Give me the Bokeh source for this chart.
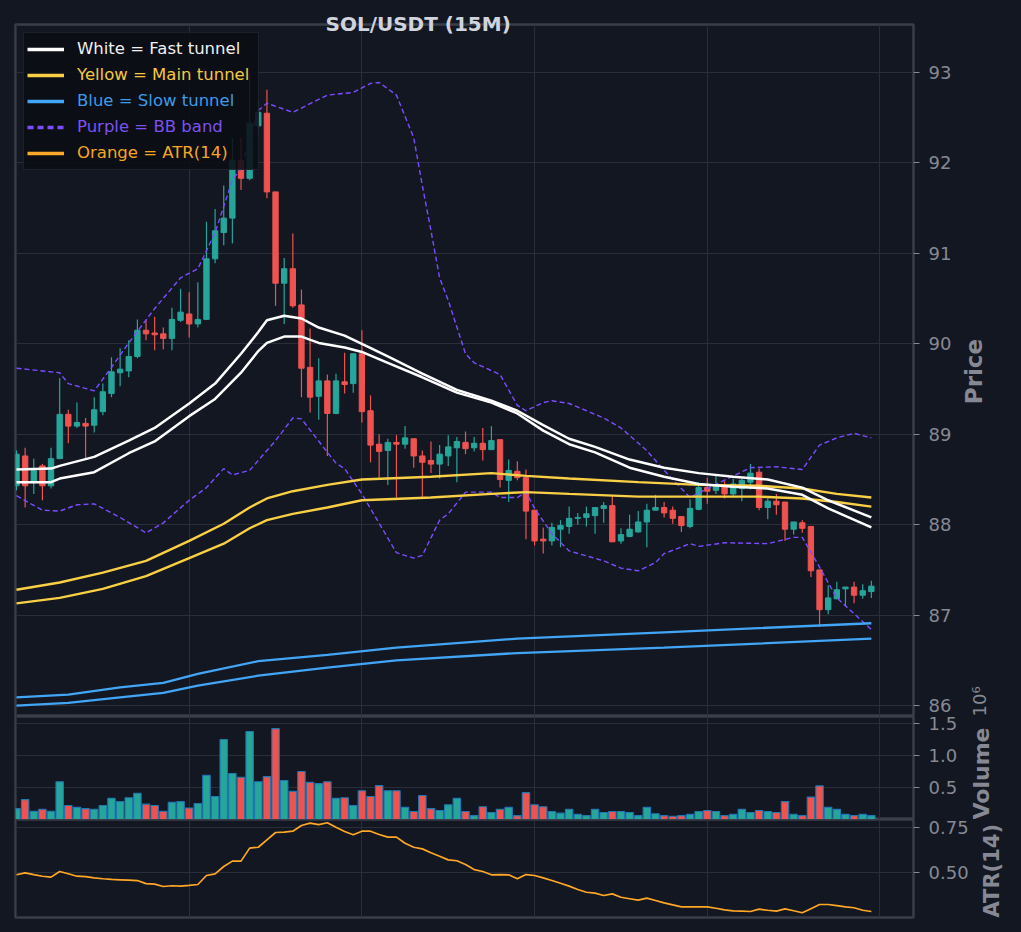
import math
import numpy as np
from bokeh.plotting import figure
from bokeh.models import (ColumnDataSource, Range1d, FixedTicker, Grid, LinearAxis,
                          Legend, LegendItem, CustomJSTickFormatter, PrintfTickFormatter)
from bokeh.layouts import column
from bokeh.embed import file_html
from bokeh.resources import INLINE

# ---------------- data ----------------
open_ = [88.43, 88.76, 88.47, 88.65, 88.43, 88.73, 89.22, 89.09, 89.12, 89.10,
         89.25, 89.45, 89.68, 89.70, 89.86, 90.15, 90.12, 90.11, 90.06, 90.26,
         90.33, 90.22, 90.27, 90.94, 91.23, 91.39, 92.03, 91.83, 92.41, 92.55,
         91.68, 90.67, 90.83, 90.43, 89.74, 89.42, 89.59, 89.23, 89.58, 89.56,
         89.89, 89.26, 88.89, 88.82, 88.91, 88.89, 88.95, 88.76, 88.71, 88.67,
         88.76, 88.85, 88.91, 88.85, 88.90, 88.83, 88.94, 88.49, 88.59, 88.52,
         88.16, 87.84, 87.82, 87.95, 87.98, 88.07, 88.08, 88.10, 88.18, 88.21,
         87.82, 87.87, 87.92, 88.03, 88.16, 88.19, 88.16, 88.09, 87.98, 88.17,
         88.41, 88.38, 88.43, 88.34, 88.40, 88.47, 88.58, 88.19, 88.26, 88.25,
         87.95, 88.02, 87.98, 87.50, 87.06, 87.18, 87.29, 87.31, 87.22, 87.26]
high = [88.82, 88.85, 88.73, 88.67, 88.85, 89.62, 89.27, 89.35, 89.18, 89.41,
        89.56, 89.85, 89.95, 90.04, 90.27, 90.27, 90.30, 90.18, 90.40, 90.61,
        90.57, 90.68, 91.35, 91.49, 91.75, 92.28, 92.28, 92.98, 92.69, 92.81,
        91.68, 90.95, 91.22, 90.60, 90.17, 89.84, 89.66, 89.67, 89.90, 89.89,
        90.15, 89.43, 89.00, 88.95, 88.99, 89.09, 88.95, 88.82, 88.92, 88.88,
        88.99, 88.97, 89.03, 88.97, 89.07, 89.09, 88.94, 88.72, 88.70, 88.61,
        88.16, 87.97, 88.02, 88.05, 88.20, 88.13, 88.20, 88.19, 88.25, 88.32,
        87.96, 88.11, 88.15, 88.23, 88.33, 88.25, 88.20, 88.09, 88.28, 88.47,
        88.52, 88.55, 88.48, 88.51, 88.51, 88.67, 88.62, 88.29, 88.34, 88.25,
        88.03, 88.05, 87.98, 87.50, 87.33, 87.37, 87.31, 87.37, 87.34, 87.38]
low = [88.38, 88.19, 88.34, 88.27, 88.40, 88.73, 88.90, 89.07, 88.73, 89.02,
       89.21, 89.41, 89.53, 89.63, 89.84, 90.04, 89.93, 89.94, 89.93, 90.24,
       90.07, 90.18, 90.27, 90.89, 91.09, 91.11, 91.70, 91.81, 92.30, 91.61,
       90.42, 90.22, 90.40, 89.41, 89.24, 89.16, 88.76, 89.22, 89.45, 89.46,
       89.13, 88.69, 88.52, 88.44, 88.30, 88.84, 88.63, 88.30, 88.57, 88.51,
       88.65, 88.47, 88.78, 88.81, 88.71, 88.83, 88.41, 88.25, 88.49, 87.84,
       87.77, 87.68, 87.77, 87.75, 87.90, 88.00, 87.98, 87.90, 88.02, 87.81,
       87.79, 87.86, 87.91, 87.75, 88.16, 88.08, 88.01, 87.92, 87.96, 88.16,
       88.23, 88.34, 88.29, 88.32, 88.26, 88.39, 88.16, 88.06, 88.11, 87.82,
       87.89, 87.91, 87.42, 86.87, 87.01, 87.18, 87.10, 87.13, 87.18, 87.19]
close = [88.78, 88.43, 88.60, 88.43, 88.73, 89.22, 89.09, 89.13, 89.09, 89.27,
         89.47, 89.69, 89.72, 89.86, 90.15, 90.11, 90.10, 90.06, 90.27, 90.35,
         90.22, 90.27, 90.94, 91.25, 91.39, 92.03, 91.83, 92.44, 92.56, 91.68,
         90.67, 90.83, 90.42, 89.73, 89.41, 89.59, 89.23, 89.59, 89.55, 89.89,
         89.25, 88.88, 88.81, 88.91, 88.89, 88.96, 88.76, 88.69, 88.67, 88.78,
         88.86, 88.92, 88.84, 88.90, 88.83, 88.93, 88.50, 88.60, 88.52, 88.15,
         87.82, 87.82, 87.97, 87.99, 88.07, 88.08, 88.12, 88.19, 88.21, 87.81,
         87.89, 87.95, 88.03, 88.16, 88.19, 88.13, 88.07, 87.99, 88.18, 88.41,
         88.37, 88.43, 88.34, 88.45, 88.49, 88.57, 88.19, 88.26, 88.22, 87.95,
         88.03, 87.96, 87.49, 87.06, 87.19, 87.28, 87.31, 87.22, 87.27, 87.32]
volume = [170000, 310000, 130000, 160000, 130000, 590000, 220000, 190000, 170000, 160000,
          220000, 330000, 280000, 340000, 410000, 240000, 220000, 130000, 270000, 280000,
          180000, 250000, 690000, 360000, 1250000, 720000, 660000, 1375000, 590000, 670000,
          1420000, 610000, 440000, 750000, 580000, 560000, 590000, 330000, 340000, 220000,
          450000, 360000, 530000, 450000, 450000, 190000, 125000, 375000, 170000, 140000,
          230000, 330000, 125000, 60000, 200000, 110000, 160000, 190000, 60000, 420000,
          230000, 200000, 125000, 100000, 160000, 80000, 60000, 160000, 110000, 125000,
          125000, 110000, 60000, 190000, 90000, 60000, 50000, 60000, 80000, 125000,
          140000, 125000, 60000, 80000, 160000, 110000, 140000, 125000, 110000, 280000,
          80000, 60000, 350000, 525000, 190000, 160000, 80000, 60000, 80000, 60000]
atr14 = [0.489, 0.500, 0.490, 0.481, 0.476, 0.507, 0.495, 0.481, 0.479, 0.472,
         0.467, 0.463, 0.461, 0.459, 0.457, 0.440, 0.437, 0.424, 0.428, 0.426,
         0.430, 0.435, 0.485, 0.494, 0.535, 0.565, 0.565, 0.637, 0.642, 0.683,
         0.724, 0.726, 0.731, 0.763, 0.776, 0.768, 0.778, 0.753, 0.729, 0.711,
         0.731, 0.731, 0.713, 0.698, 0.698, 0.664, 0.642, 0.633, 0.611, 0.592,
         0.572, 0.567, 0.546, 0.518, 0.507, 0.489, 0.490, 0.489, 0.467, 0.490,
         0.485, 0.472, 0.457, 0.442, 0.426, 0.407, 0.392, 0.387, 0.374, 0.383,
         0.364, 0.356, 0.348, 0.359, 0.346, 0.333, 0.322, 0.311, 0.311, 0.311,
         0.311, 0.303, 0.294, 0.289, 0.287, 0.285, 0.298, 0.292, 0.287, 0.300,
         0.289, 0.278, 0.300, 0.324, 0.324, 0.318, 0.311, 0.306, 0.292, 0.285]

fast_idx = [0, 4, 5, 9, 13, 16, 20, 23, 26, 28, 29, 31, 33, 35, 38, 40, 43, 47, 51, 55,
            58, 61, 64, 67, 71, 75, 79, 83, 87, 91, 94, 99]
fast_upper = [88.61, 88.62, 88.65, 88.75, 88.93, 89.07, 89.34, 89.56, 89.89, 90.13, 90.26,
              90.31, 90.28, 90.18, 90.09, 90.00, 89.86, 89.67, 89.49, 89.37, 89.26, 89.10,
              88.95, 88.86, 88.72, 88.63, 88.57, 88.53, 88.50, 88.41, 88.27, 88.08]
fast_lower = [88.47, 88.47, 88.51, 88.58, 88.79, 88.92, 89.20, 89.39, 89.68, 89.92, 90.01,
              90.08, 90.08, 90.01, 89.96, 89.91, 89.79, 89.63, 89.46, 89.35, 89.23, 89.04,
              88.89, 88.80, 88.63, 88.53, 88.45, 88.42, 88.40, 88.33, 88.18, 87.97]
main_idx = [0, 5, 10, 15, 20, 24, 27, 29, 32, 36, 40, 48, 55, 59, 64, 72, 79, 86, 91, 95, 99]
main_upper = [87.28, 87.36, 87.47, 87.60, 87.82, 88.01, 88.19, 88.29, 88.37, 88.44, 88.50,
              88.53, 88.57, 88.54, 88.51, 88.47, 88.44, 88.43, 88.40, 88.34, 88.30]
main_lower = [87.13, 87.19, 87.29, 87.43, 87.63, 87.79, 87.96, 88.05, 88.12, 88.19, 88.27,
              88.30, 88.34, 88.36, 88.34, 88.31, 88.31, 88.31, 88.29, 88.25, 88.20]
slow_idx = [0, 6, 12, 17, 21, 28, 36, 44, 58, 75, 99]
slow_upper = [86.09, 86.12, 86.20, 86.25, 86.35, 86.49, 86.56, 86.64, 86.74, 86.81, 86.91]
slow_lower = [86.00, 86.03, 86.09, 86.14, 86.22, 86.33, 86.42, 86.50, 86.58, 86.64, 86.74]
bb_up_idx = [0, 4, 5, 6, 9, 11, 13, 16, 19, 21, 23, 25, 26, 28, 29, 32, 36, 39, 41, 42,
             44, 46, 47, 48, 49, 50, 52, 53, 56, 58, 59, 61, 62, 64, 68, 70, 73, 75, 78, 80,
             85, 88, 91, 93, 95, 97, 99]
bb_upper = [89.73, 89.69, 89.68, 89.56, 89.48, 89.74, 90.01, 90.39, 90.73, 90.83, 91.23,
            91.81, 91.94, 92.58, 92.66, 92.56, 92.75, 92.78, 92.88, 92.89, 92.75, 92.28,
            91.75, 91.25, 90.73, 90.48, 89.89, 89.79, 89.66, 89.32, 89.26, 89.35, 89.37,
            89.34, 89.18, 89.07, 88.82, 88.60, 88.30, 88.40, 88.63, 88.64, 88.61, 88.88,
            88.96, 89.01, 88.96]
bb_lo_idx = [0, 3, 5, 7, 9, 12, 15, 17, 20, 22, 24, 25, 27, 30, 32, 33, 36, 37, 38, 40,
             44, 46, 47, 49, 50, 52, 55, 56, 58, 59, 60, 62, 64, 68, 70, 72, 74, 75, 78, 79,
             82, 87, 90, 91, 93, 95, 99]
bb_lower = [88.32, 88.16, 88.15, 88.22, 88.23, 88.08, 87.91, 88.02, 88.27, 88.41, 88.62,
            88.55, 88.60, 88.93, 89.18, 89.17, 88.80, 88.68, 88.62, 88.34, 87.69, 87.63,
            87.66, 88.05, 88.12, 88.36, 88.36, 88.30, 88.30, 88.36, 88.18, 87.90, 87.71,
            87.60, 87.52, 87.49, 87.58, 87.68, 87.79, 87.76, 87.80, 87.79, 87.86, 87.86,
            87.53, 87.19, 86.84]

price_ticks = [86, 87, 88, 89, 90, 91, 92, 93]
volume_ticks = [500000, 1000000, 1500000]
atr_ticks = [0.50, 0.75]
x_grid_ticks = [0, 20, 40, 60, 80, 100]
title_text = "SOL/USDT (15M)"
legend_labels = ["White = Fast tunnel", "Yellow = Main tunnel", "Blue = Slow tunnel",
                 "Purple = BB band", "Orange = ATR(14)"]

# ---------------- style ----------------
BG = "#131722"
GRID = "#2a2e39"
SPINE = "#3a3e49"
TICK = "#868993"
TITLE_C = "#d1d4dc"
UP = "#26a69a"
DOWN = "#ef5350"
WHITE = "#ffffff"
YELLOW = "#f9cf45"
BLUE = "#42a5f5"
PURPLE = "#7c4dff"
ORANGE = "#ffa726"
VOL_EDGE = "#1f77b4"
FONT = "DejaVu Sans"
NBSP = "\u00a0"

FW = 898
FH1, FH2, FH3 = 692, 103, 98
X0, X1 = -0.116, 103.88
P1 = 93.531
P0 = P1 - FH1 / 90.43
V0, V1 = 0.0, 1.61e6
A0, A1 = 0.2517, 0.7961

x_range = Range1d(X0, X1)


def try_set(obj, **kw):
    for k, v in kw.items():
        try:
            setattr(obj, k, v)
        except Exception:
            pass


def mk(fh, yr, top, bottom, **extra):
    p = figure(frame_width=FW, frame_height=fh, x_range=x_range, y_range=yr,
               output_backend="svg", toolbar_location=None,
               x_axis_location=None, y_axis_location="right",
               min_border_left=15, min_border_right=100,
               min_border_top=top, min_border_bottom=bottom,
               background_fill_color=BG, border_fill_color=BG,
               outline_line_color=SPINE, outline_line_width=2.5, **extra)
    for g in p.xgrid:
        g.visible = False
    p.add_layout(Grid(dimension=0, ticker=FixedTicker(ticks=x_grid_ticks),
                      grid_line_color=GRID, grid_line_width=1))
    p.ygrid.grid_line_color = GRID
    p.ygrid.grid_line_width = 1
    ax = p.yaxis[0]
    ax.axis_line_color = None
    ax.major_tick_out = 6
    ax.major_tick_in = 0
    ax.major_tick_line_color = TICK
    ax.minor_tick_line_color = None
    ax.major_label_text_font = FONT
    ax.major_label_text_font_size = "18px"
    ax.major_label_text_color = TICK
    ax.major_label_standoff = 9
    return p


def style_axis_label(ax, text, size, standoff, bold=True):
    ax.axis_label = text
    ax.axis_label_text_font = FONT
    ax.axis_label_text_font_size = size
    ax.axis_label_text_font_style = "bold" if bold else "normal"
    ax.axis_label_text_color = TICK
    try_set(ax, axis_label_standoff=standoff)
    # read bottom-to-top, starting at the lower end of the axis
    try_set(ax, axis_label_orientation=math.pi / 2)
    try_set(ax, axis_label_align="start")


xs = list(range(len(open_)))
colors = [UP if c >= o else DOWN for o, c in zip(open_, close)]
src = ColumnDataSource(dict(x=xs, open=open_, high=high, low=low, close=close,
                            top=[max(o, c) for o, c in zip(open_, close)],
                            bottom=[min(o, c) for o, c in zip(open_, close)],
                            vol=volume, atr=atr14, color=colors))

# ---------------- price panel ----------------
p1 = mk(FH1, Range1d(P0, P1), 24, 0, title=title_text)
p1.title.align = "left"
p1.title.offset = 310
p1.title.text_font = FONT
p1.title.text_font_size = "20px"
p1.title.text_font_style = "bold"
p1.title.text_color = TITLE_C
try_set(p1.title, standoff=-22)

p1.yaxis[0].ticker = FixedTicker(ticks=price_ticks)
# leading no-break spaces lift the label to the middle of the price panel
style_axis_label(p1.yaxis[0], NBSP * 39 + "Price", "23px", 20)

# offset text of the volume axis (scientific multiplier)
ax_off = LinearAxis(ticker=FixedTicker(ticks=[]), axis_line_color=None,
                    major_tick_line_color=None, minor_tick_line_color=None)
style_axis_label(ax_off, "10\u2076", "18px", -24, bold=False)
p1.add_layout(ax_off, "right")

p1.segment(x0="x", y0="low", x1="x", y1="high", line_color="color", line_width=1.2, source=src)
p1.vbar(x="x", width=0.62, top="top", bottom="bottom", fill_color="color",
        line_color="color", line_width=1, source=src)

p1.line(bb_up_idx, bb_upper, line_color=PURPLE, line_width=1.4, line_dash="5 3")
p1.line(bb_lo_idx, bb_lower, line_color=PURPLE, line_width=1.4, line_dash="5 3")
p1.line(slow_idx, slow_upper, line_color=BLUE, line_width=2.3)
p1.line(slow_idx, slow_lower, line_color=BLUE, line_width=2.3)
p1.line(main_idx, main_upper, line_color=YELLOW, line_width=2.4)
p1.line(main_idx, main_lower, line_color=YELLOW, line_width=2.4)
p1.line(fast_idx, fast_upper, line_color=WHITE, line_width=2.5)
p1.line(fast_idx, fast_lower, line_color=WHITE, line_width=2.5)

# legend: one boxed legend with the swatches, plus one text-only legend per row
leg_colors = [WHITE, YELLOW, BLUE, PURPLE, ORANGE]
leg_dash = ["solid", "solid", "solid", "6 4", "solid"]
leg_text_colors = ["#f0f0f0", "#f5c842", "#3d9be9", "#7b52f0", "#f5a623"]
nan = np.array([np.nan])
swatches = [p1.line(x=nan, y=nan, line_color=c, line_width=3.5, line_dash=d)
            for c, d in zip(leg_colors, leg_dash)]
ghosts = [p1.line(x=nan, y=nan, line_color=c, line_alpha=0, line_width=3.5)
          for c in leg_colors]
MARGIN, PAD, ROW_H, GLYPH_W, STANDOFF, LABEL_W = 8, 3, 26, 37, 14, 177
common = dict(spacing=0, glyph_width=GLYPH_W, glyph_height=ROW_H, label_height=ROW_H,
              label_width=LABEL_W, label_standoff=STANDOFF,
              label_text_font=FONT, label_text_font_size="16.5px")
box = Legend(items=[LegendItem(label=t, renderers=[r]) for t, r in zip(legend_labels, swatches)],
             location="top_left", margin=MARGIN, padding=PAD, label_text_alpha=0,
             background_fill_color="#0b0d13", background_fill_alpha=0.86,
             border_line_color="#2e323d", border_line_width=1.5, **common)
p1.add_layout(box)
for k, (t, r, c) in enumerate(zip(legend_labels, ghosts, leg_text_colors)):
    row = Legend(items=[LegendItem(label=t, renderers=[r])],
                 location=(MARGIN + PAD, FH1 - (MARGIN + PAD + (k + 1) * ROW_H)),
                 margin=0, padding=0, label_text_color=c,
                 background_fill_alpha=0, border_line_alpha=0, **common)
    p1.add_layout(row)

# ---------------- volume panel ----------------
p2 = mk(FH2, Range1d(V0, V1), 0, 0)
p2.yaxis[0].ticker = FixedTicker(ticks=volume_ticks)
p2.yaxis[0].formatter = CustomJSTickFormatter(code="return (tick / 1e6).toFixed(1);")
style_axis_label(p2.yaxis[0], "Volume", "22px", 21)
p2.vbar(x="x", width=0.86, top="vol", bottom=0, fill_color="color",
        line_color=VOL_EDGE, line_width=1.1, source=src)

# ---------------- ATR panel ----------------
p3 = mk(FH3, Range1d(A0, A1), 0, 8)
p3.yaxis[0].ticker = FixedTicker(ticks=atr_ticks)
p3.yaxis[0].formatter = PrintfTickFormatter(format="%.2f")
style_axis_label(p3.yaxis[0], "ATR(14)", "21px", 20)
p3.line(x="x", y="atr", line_color=ORANGE, line_width=1.7, source=src)

layout = column(p1, p2, p3, spacing=0)
html = file_html(layout, INLINE, title=title_text)
html = html.replace("</head>",
                    "<style>html,body{margin:0;padding:0;background:#131722;}</style></head>", 1)
open("out.html", "w").write(html)
